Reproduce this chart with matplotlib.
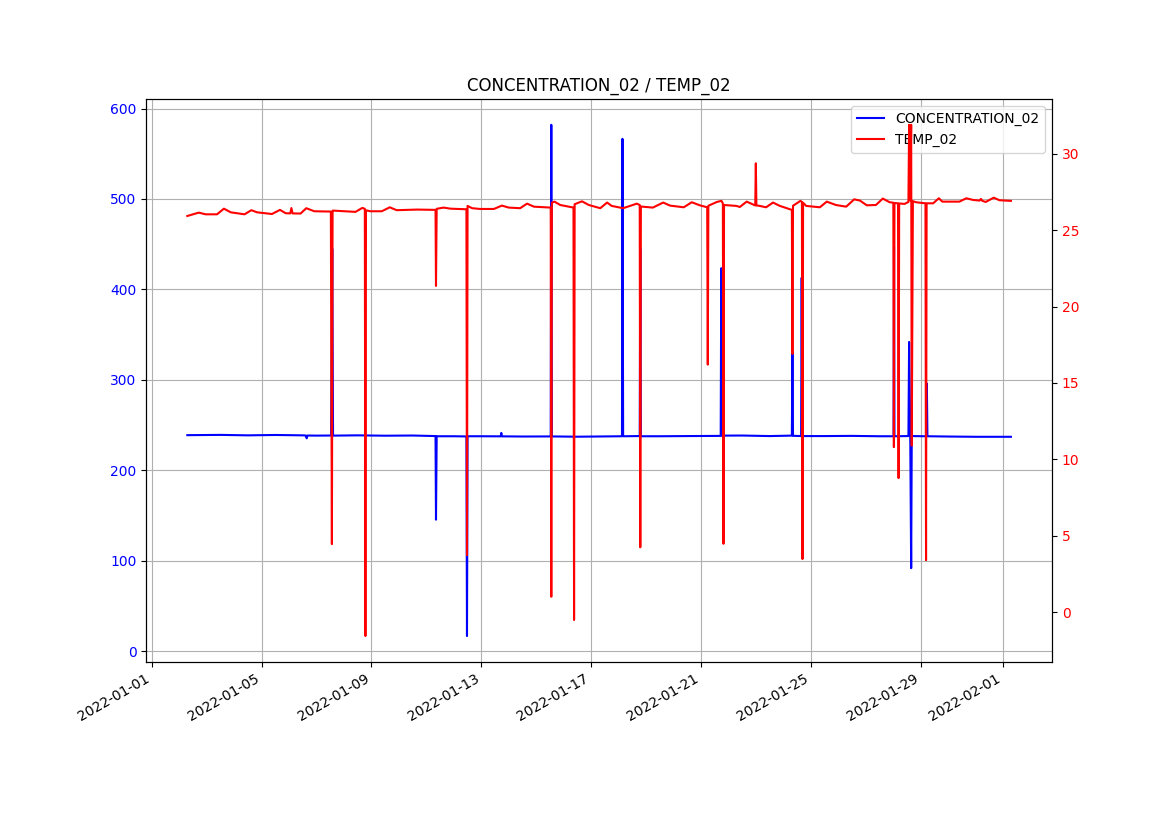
import pandas as pd
from matplotlib import pyplot as plt

start = pd.Timestamp("2022-01-01 00:00")

# hours after 2022-01-01 00:00
conc_hours = [31, 60, 84, 108, 132, 134.5, 135.4, 136, 144,
              156.7, 157.7, 158.4, 180, 204, 228,
              248, 248.4, 249, 264,
              275, 275.5, 276, 288,
              305, 305.5, 306, 324,
              348.7, 349.2, 349.7, 372, 396,
              411, 411.4, 412,
              426.5, 427, 427.5, 444, 468,
              497.3, 497.8, 498.3, 516, 540,
              559.5, 560, 560.5,
              567.6, 568.1, 568.6, 588, 612, 636,
              648.4, 648.8, 649.2,
              661.4, 662, 663, 663.8, 664.3,
              677, 677.5, 678, 696, 720, 751]
conc_values = [239.0, 239.3, 238.8, 239.2, 238.8, 238.6, 235.5, 238.6, 238.5,
               238.6, 445, 238.5, 238.8, 238.4, 238.6,
               238.0, 145.6, 237.8, 237.8,
               237.6, 17, 237.8, 237.8,
               237.7, 241.5, 237.7, 237.5,
               237.6, 582, 237.6, 237.3, 237.6,
               237.8, 566.5, 237.8,
               238.0, 445, 237.8, 237.8, 238.0,
               238.2, 423.5, 238.5, 238.6, 238.0,
               238.5, 330, 238.3,
               238.0, 413, 238.0, 238.0, 238.2, 237.8,
               237.8, 447, 237.8,
               238.0, 342, 238.0, 92, 238.0,
               237.8, 296, 237.8, 237.5, 237.2, 237.2]

temp_hours = [31, 41, 47, 57, 63, 69, 81, 87, 92, 105, 112, 117,
              121, 122, 123, 130, 135, 142,
              156.5, 157.4, 158, 159, 178, 184,
              186.2, 186.7, 187.2, 191, 201, 208, 214, 232,
              248, 248.4, 249, 255, 261,
              275, 275.5, 276, 280, 287, 299, 306, 312, 322, 328, 334,
              348.7, 349.2, 349.7, 352, 357,
              368.6, 369.1, 369.6, 376, 382, 392, 398, 402, 412, 424,
              426.5, 427, 427.5, 438, 447, 453, 465, 472, 479,
              485.5, 486, 486.5, 494, 498,
              499.2, 499.7, 500.2, 511, 514, 520,
              527.5, 528, 528.5, 530, 537, 543, 549,
              559.5, 560, 560.5, 567,
              568.3, 568.8, 569.3, 572, 584, 590, 598, 607, 614, 619, 625,
              633, 639, 645,
              648.2, 648.7, 649.2, 652.3, 652.8, 653.3, 658,
              661.4, 662, 663, 663.8, 664.3, 665.3, 668,
              676.3, 676.8, 677.3, 683, 688, 691, 706, 712, 718,
              723.6, 724.8, 726, 729, 736, 741, 751]
temp_values = [25.93, 26.15, 26.04, 26.04, 26.41, 26.17, 26.04, 26.31, 26.17, 26.06, 26.33, 26.11,
               26.10, 26.45, 26.10, 26.09, 26.44, 26.24,
               26.22, 4.45, 26.28, 26.28, 26.20, 26.46,
               26.40, -1.57, 26.30, 26.24, 26.24, 26.50, 26.31, 26.35,
               26.33, 21.35, 26.40, 26.48, 26.41,
               26.37, 3.73, 26.59, 26.44, 26.39, 26.39, 26.61, 26.48, 26.44, 26.74, 26.54,
               26.48, 1.0, 26.80, 26.87, 26.65,
               26.48, -0.52, 26.70, 26.89, 26.65, 26.44, 26.81, 26.59, 26.44, 26.74,
               26.65, 4.24, 26.55, 26.48, 26.81, 26.61, 26.50, 26.83, 26.63,
               26.50, 16.2, 26.60, 26.85, 26.92,
               26.75, 4.47, 26.65, 26.59, 26.52, 26.87,
               26.62, 29.38, 26.62, 26.61, 26.50, 26.81, 26.59,
               26.33, 16.9, 26.60, 26.92,
               26.85, 3.47, 26.80, 26.59, 26.50, 26.87, 26.65, 26.54, 27.02, 26.94, 26.63,
               26.65, 27.07, 26.83,
               26.80, 10.8, 26.78, 26.76, 8.77, 26.75, 26.72,
               26.85, 31.9, 26.95, 31.9, 10.9, 26.90, 26.83,
               26.76, 3.4, 26.76, 26.76, 27.09, 26.87, 26.87, 27.09, 26.98,
               26.94, 27.05, 26.92, 26.85, 27.13, 26.96, 26.92]

conc_time = start + pd.to_timedelta(conc_hours, unit="h")
temp_time = start + pd.to_timedelta(temp_hours, unit="h")

fig, ax = plt.subplots(figsize=(11.69, 8.27), dpi=100)
ax.set_title("CONCENTRATION_02 / TEMP_02")
l1, = ax.plot(conc_time, conc_values, color="blue", label="CONCENTRATION_02")
ax.tick_params(axis="y", labelcolor="blue")
ax.grid()

ax2 = ax.twinx()
l2, = ax2.plot(temp_time, temp_values, color="red", label="TEMP_02")
ax2.tick_params(axis="y", labelcolor="red")

ax.legend(handles=[l1, l2], loc="upper right")
fig.autofmt_xdate()

plt.savefig("out.png")
